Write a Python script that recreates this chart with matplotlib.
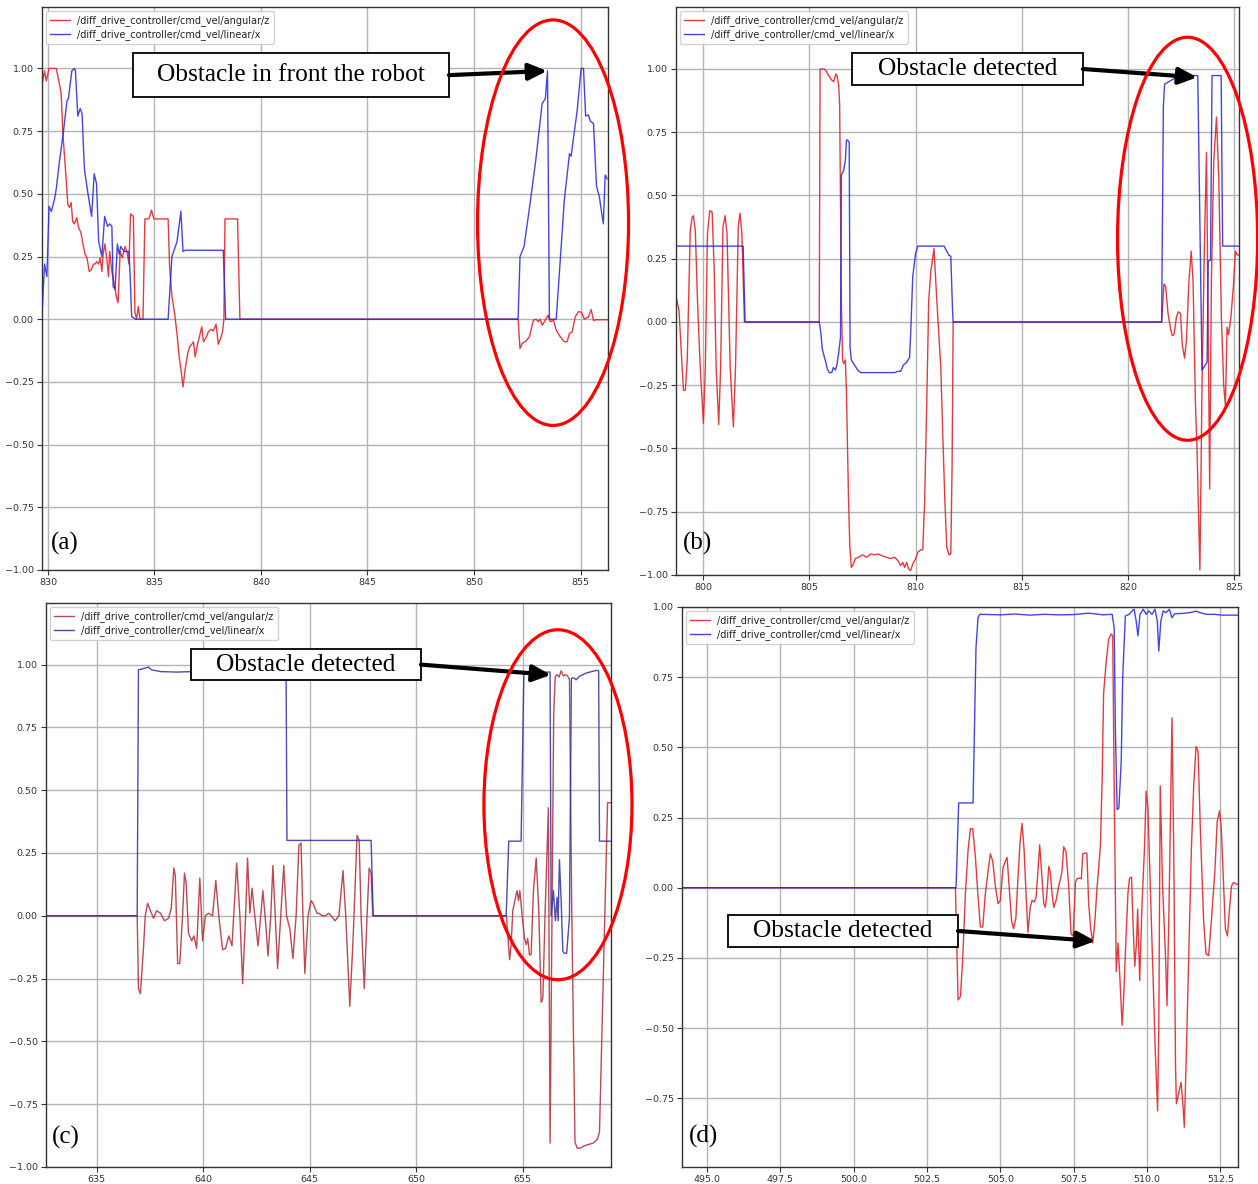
import matplotlib
matplotlib.use('Agg')
import matplotlib.pyplot as plt
from matplotlib.patches import Ellipse, Rectangle
from matplotlib.ticker import FuncFormatter
import numpy as np

# ---------------- data (time [s], value) ----------------
LBL_ANG = '/diff_drive_controller/cmd_vel/angular/z'
LBL_LIN = '/diff_drive_controller/cmd_vel/linear/x'

a_linear = [(829.74, 0.05), (829.84, 0.22), (829.95, 0.17), (830.05, 0.45), (830.16, 0.43), (830.31, 0.48),
            (830.39, 0.52), (830.54, 0.63), (830.73, 0.75), (830.89, 0.87), (830.96, 0.88), (831.12, 0.99),
            (831.24, 1.0), (831.29, 0.99), (831.40, 0.81), (831.51, 0.84), (831.60, 0.82), (831.71, 0.6),
            (831.86, 0.51), (832.05, 0.41), (832.17, 0.58), (832.28, 0.54), (832.38, 0.31), (832.53, 0.25),
            (832.66, 0.41), (832.80, 0.37), (832.90, 0.38), (833.00, 0.37), (833.06, 0.13), (833.15, 0.12),
            (833.26, 0.30), (833.34, 0.26), (833.42, 0.29), (833.57, 0.27), (833.80, 0.27), (833.85, 0.19),
            (833.93, 0.01), (834.11, 0.0), (835.64, 0.0), (835.82, 0.25), (836.06, 0.31), (836.24, 0.43),
            (836.34, 0.27), (836.44, 0.275), (838.23, 0.275), (838.34, 0.0), (852.07, 0.0), (852.16, 0.25),
            (852.35, 0.29), (852.63, 0.46), (852.90, 0.635), (853.20, 0.86), (853.35, 0.88), (853.45, 0.99),
            (853.54, 0.0), (853.86, 0.0), (854.24, 0.475), (854.43, 0.62), (854.48, 0.66), (854.56, 0.65),
            (854.65, 0.71), (854.84, 0.83), (855.03, 1.0), (855.14, 1.0), (855.24, 0.81), (855.37, 0.815),
            (855.46, 0.79), (855.61, 0.78), (855.75, 0.53), (855.88, 0.49), (856.07, 0.38), (856.16, 0.575),
            (856.25, 0.56)]
a_angular = [(829.74, 0.944), (829.84, 0.99), (829.92, 0.95), (830.05, 1.0), (830.39, 1.0), (830.51, 0.95),
             (830.62, 0.9), (830.70, 0.74), (830.82, 0.6), (830.93, 0.46), (831.01, 0.445), (831.09, 0.465),
             (831.16, 0.39), (831.24, 0.38), (831.35, 0.405), (831.44, 0.365), (831.55, 0.345), (831.63, 0.305),
             (831.74, 0.26), (831.83, 0.245), (831.94, 0.19), (832.05, 0.2), (832.14, 0.22), (832.22, 0.22),
             (832.28, 0.23), (832.38, 0.22), (832.45, 0.245), (832.53, 0.19), (832.59, 0.26), (832.67, 0.30),
             (832.76, 0.245), (832.84, 0.17), (832.90, 0.27), (833.00, 0.19), (833.11, 0.14), (833.21, 0.09),
             (833.29, 0.066), (833.39, 0.27), (833.49, 0.245), (833.62, 0.29), (833.73, 0.26), (833.80, 0.22),
             (833.88, 0.42), (834.01, 0.41), (834.08, 0.03), (834.16, 0.0), (834.24, 0.05), (834.32, 0.0),
             (834.46, 0.0), (834.55, 0.4), (834.74, 0.4), (834.86, 0.435), (834.97, 0.4), (835.64, 0.4),
             (835.71, 0.21), (835.82, 0.09), (835.95, 0.02), (836.06, -0.06), (836.16, -0.15), (836.24, -0.2),
             (836.34, -0.27), (836.44, -0.2), (836.55, -0.14), (836.65, -0.11), (836.75, -0.10), (836.83, -0.09),
             (836.91, -0.15), (837.02, -0.10), (837.11, -0.07), (837.22, -0.03), (837.30, -0.09), (837.41, -0.075),
             (837.53, -0.05), (837.66, -0.04), (837.76, -0.047), (837.89, -0.02), (838.00, -0.10), (838.11, -0.075),
             (838.20, -0.047), (838.26, 0.0), (838.31, 0.4), (838.90, 0.4), (839.01, 0.0), (852.07, 0.0),
             (852.16, -0.117), (852.26, -0.097), (852.44, -0.087), (852.60, -0.07), (852.67, -0.044),
             (852.79, -0.004), (852.92, 0.0), (853.01, -0.01), (853.11, 0.0), (853.20, -0.024), (853.30, -0.01),
             (853.39, 0.003), (853.48, 0.016), (853.58, -0.01), (853.73, -0.004), (853.86, -0.044), (854.05, -0.07),
             (854.24, -0.09), (854.37, -0.09), (854.48, -0.057), (854.61, -0.05), (854.75, 0.009), (854.90, 0.03),
             (855.05, 0.028), (855.18, 0.0), (855.37, 0.009), (855.50, 0.039), (855.61, -0.005), (855.75, -0.002),
             (856.25, -0.002)]

b_linear = [(798.73, 0.30), (801.89, 0.30), (801.98, 0.0), (805.47, 0.0), (805.53, -0.033), (805.62, -0.11),
            (805.75, -0.15), (805.85, -0.185), (805.94, -0.2), (806.06, -0.2), (806.13, -0.18), (806.23, -0.19),
            (806.30, -0.17), (806.38, -0.125), (806.47, -0.06), (806.51, 0.58), (806.57, 0.59), (806.62, 0.6),
            (806.70, 0.64), (806.75, 0.72), (806.85, 0.715), (806.88, 0.71), (806.92, -0.1), (806.98, -0.15),
            (807.09, -0.165), (807.28, -0.19), (807.42, -0.2), (809.02, -0.2), (809.17, -0.195), (809.30, -0.195),
            (809.43, -0.17), (809.58, -0.16), (809.72, -0.14), (809.77, -0.05), (809.87, 0.18), (810.00, 0.27),
            (810.11, 0.30), (811.34, 0.30), (811.47, 0.28), (811.57, 0.264), (811.66, 0.26), (811.74, 0.05),
            (811.77, 0.0), (821.58, 0.0), (821.66, 0.85), (821.72, 0.94), (821.92, 0.95), (822.19, 0.963),
            (822.55, 0.974), (823.28, 0.974), (823.48, -0.19), (823.64, -0.17), (823.72, -0.157), (823.77, 0.24),
            (823.88, 0.245), (823.95, 0.974), (824.38, 0.974), (824.45, 0.30), (825.22, 0.30)]
b_angular = [(798.74, 0.099), (798.87, 0.046), (799.02, -0.18), (799.08, -0.27), (799.17, -0.27), (799.26, -0.15),
             (799.40, 0.36), (799.49, 0.415), (799.55, 0.42), (799.64, 0.36), (799.74, 0.086), (799.87, -0.18),
             (800.02, -0.40), (800.11, -0.18), (800.21, 0.35), (800.32, 0.44), (800.43, 0.435), (800.53, 0.2),
             (800.62, -0.18), (800.74, -0.405), (800.83, -0.18), (800.94, 0.376), (801.04, 0.42), (801.13, 0.35),
             (801.28, -0.18), (801.43, -0.415), (801.53, -0.18), (801.66, 0.376), (801.74, 0.43), (801.83, 0.35),
             (801.95, 0.0), (805.47, 0.0), (805.51, 1.0), (805.58, 1.0), (805.72, 1.0), (805.81, 0.99),
             (805.94, 0.97), (806.06, 0.956), (806.15, 0.95), (806.25, 0.98), (806.30, 0.975), (806.38, 0.94),
             (806.43, 0.86), (806.51, 0.086), (806.57, -0.15), (806.62, -0.165), (806.70, -0.15), (806.75, -0.28),
             (806.85, -0.71), (806.91, -0.89), (806.98, -0.97), (807.06, -0.96), (807.17, -0.935), (807.32, -0.93),
             (807.51, -0.92), (807.70, -0.93), (807.89, -0.917), (808.08, -0.92), (808.26, -0.917), (808.45, -0.925),
             (808.64, -0.93), (808.83, -0.935), (809.02, -0.93), (809.17, -0.943), (809.30, -0.963), (809.40, -0.95),
             (809.49, -0.97), (809.58, -0.95), (809.68, -0.976), (809.77, -0.983), (809.87, -0.956), (810.00, -0.937),
             (810.11, -0.91), (810.25, -0.9), (810.34, -0.9), (810.43, -0.705), (810.53, -0.31), (810.62, 0.086),
             (810.72, 0.2), (810.87, 0.29), (811.00, 0.086), (811.19, -0.18), (811.28, -0.44), (811.38, -0.705),
             (811.47, -0.89), (811.57, -0.92), (811.66, -0.917), (811.72, -0.57), (811.77, 0.0), (821.58, 0.0),
             (821.69, 0.15), (821.77, 0.14), (821.88, 0.034), (822.00, -0.027), (822.08, -0.054), (822.16, -0.05),
             (822.28, 0.02), (822.36, 0.04), (822.47, 0.034), (822.55, -0.09), (822.66, -0.143), (822.75, -0.07),
             (822.86, 0.157), (822.97, 0.28), (823.06, 0.157), (823.17, -0.32), (823.25, -0.52), (823.38, -0.98),
             (823.48, -0.25), (823.59, 0.29), (823.69, 0.67), (823.75, 0.157), (823.84, -0.66), (823.92, 0.157),
             (824.03, 0.63), (824.16, 0.81), (824.27, 0.565), (824.39, 0.02), (824.50, -0.25), (824.58, -0.33),
             (824.66, -0.02), (824.73, -0.05), (824.84, 0.02), (824.97, 0.157), (825.05, 0.28), (825.13, 0.265),
             (825.22, 0.265)]

c_linear = [(632.62, 0.0), (636.90, 0.0), (636.96, 0.979), (637.24, 0.985), (637.43, 0.99), (637.58, 0.979),
            (638.00, 0.972), (638.75, 0.97), (639.50, 0.972), (643.89, 0.965), (643.93, 0.30), (647.88, 0.30),
            (647.98, 0.0), (654.22, 0.0), (654.34, 0.297), (654.92, 0.297), (655.05, 0.97), (656.28, 0.97),
            (656.33, 0.0), (656.44, 0.10), (656.53, -0.02), (656.61, 0.074), (656.66, -0.02), (656.72, 0.223),
            (656.80, 0.06), (656.88, -0.142), (656.95, -0.149), (657.06, -0.149), (657.19, -0.007), (657.28, 0.946),
            (657.42, 0.946), (657.50, 0.939), (657.66, 0.953), (657.97, 0.966), (658.28, 0.973), (658.47, 0.977),
            (658.56, 0.975), (658.60, 0.297), (659.14, 0.297)]
c_angular = [(632.62, 0.0), (636.90, 0.0), (636.96, -0.29), (637.05, -0.31), (637.18, -0.15), (637.28, 0.0),
             (637.39, 0.05), (637.52, 0.02), (637.67, -0.01), (637.81, 0.02), (638.00, 0.01), (638.18, -0.02),
             (638.37, -0.01), (638.50, 0.03), (638.62, 0.19), (638.69, 0.16), (638.80, -0.19), (638.90, -0.19),
             (639.03, 0.0), (639.12, 0.17), (639.20, 0.13), (639.31, -0.07), (639.46, -0.10), (639.56, -0.08),
             (639.69, -0.13), (639.84, 0.15), (639.97, -0.10), (640.10, 0.0), (640.25, 0.01), (640.44, 0.0),
             (640.59, 0.14), (640.73, 0.0), (640.91, -0.135), (641.05, -0.13), (641.20, -0.08), (641.35, -0.12),
             (641.57, 0.21), (641.72, 0.0), (641.85, -0.27), (641.99, 0.0), (642.08, 0.23), (642.19, 0.01),
             (642.29, 0.11), (642.42, 0.0), (642.57, -0.12), (642.70, 0.0), (642.80, 0.10), (642.93, -0.03),
             (643.04, -0.16), (643.17, 0.0), (643.27, 0.20), (643.38, 0.0), (643.49, -0.21), (643.64, 0.0),
             (643.78, 0.20), (643.91, 0.0), (644.06, -0.05), (644.21, -0.17), (644.36, 0.0), (644.49, 0.28),
             (644.59, 0.29), (644.68, 0.0), (644.77, -0.23), (644.92, 0.0), (645.06, 0.06), (645.15, 0.05),
             (645.34, 0.01), (645.43, 0.01), (645.58, 0.0), (645.72, 0.0), (645.90, 0.01), (646.19, -0.02),
             (646.37, 0.0), (646.56, 0.18), (646.69, 0.0), (646.88, -0.36), (647.03, -0.10), (647.22, 0.32),
             (647.32, 0.30), (647.41, 0.0), (647.56, -0.29), (647.69, 0.0), (647.79, 0.19), (647.88, 0.17),
             (647.96, 0.0), (654.23, 0.0), (654.38, -0.175), (654.45, -0.12), (654.53, 0.02), (654.66, 0.074),
             (654.73, 0.10), (654.80, 0.06), (654.86, 0.10), (654.97, 0.0), (655.08, -0.09), (655.16, -0.115),
             (655.23, -0.09), (655.31, -0.155), (655.39, -0.155), (655.50, 0.10), (655.63, 0.23), (655.75, 0.02),
             (655.86, -0.345), (655.94, -0.33), (656.05, 0.02), (656.20, 0.43), (656.28, -0.905), (656.36, -0.10),
             (656.45, 0.80), (656.52, 0.95), (656.60, 0.96), (656.70, 0.95), (656.80, 0.975), (656.90, 0.955),
             (657.00, 0.96), (657.10, 0.955), (657.19, 0.94), (657.30, 0.0), (657.45, -0.90), (657.55, -0.925),
             (657.70, -0.925), (657.90, -0.915), (658.10, -0.91), (658.30, -0.905), (658.50, -0.89), (658.60, -0.86),
             (658.98, 0.45), (659.14, 0.45)]

d_linear = [(494.15, 0.0), (503.49, 0.0), (503.58, 0.302), (504.07, 0.302), (504.17, 0.855), (504.24, 0.962),
            (504.30, 0.974), (505.00, 0.972), (505.50, 0.975), (506.00, 0.971), (506.50, 0.974), (507.00, 0.972),
            (507.50, 0.973), (508.00, 0.978), (508.20, 0.976), (508.50, 0.972), (508.81, 0.974), (508.88, 0.926),
            (508.92, 0.57), (508.98, 0.278), (509.04, 0.284), (509.12, 0.45), (509.17, 0.748), (509.26, 0.968),
            (509.39, 0.974), (509.49, 0.986), (509.56, 0.992), (509.63, 0.95), (509.69, 0.897), (509.76, 0.974),
            (509.87, 0.992), (509.97, 0.974), (510.06, 0.986), (510.17, 0.974), (510.27, 0.992), (510.35, 0.95),
            (510.40, 0.843), (510.47, 0.95), (510.55, 0.986), (510.65, 0.98), (510.76, 0.992), (510.85, 0.962),
            (510.95, 0.976), (511.19, 0.977), (511.47, 0.98), (511.67, 0.985), (511.81, 0.98), (512.01, 0.974),
            (512.29, 0.974), (512.56, 0.971), (513.10, 0.971)]
d_angular = [(494.15, 0.0), (503.47, 0.0), (503.49, -0.095), (503.56, -0.40), (503.64, -0.388), (503.72, -0.248),
             (503.81, -0.019), (503.90, 0.134), (503.98, 0.21), (504.06, 0.21), (504.15, 0.108), (504.24, -0.032),
             (504.32, -0.14), (504.40, -0.14), (504.49, -0.019), (504.58, 0.057), (504.66, 0.121), (504.74, 0.095),
             (504.83, 0.006), (504.92, -0.057), (505.00, -0.045), (505.09, 0.07), (505.17, 0.095), (505.23, 0.108),
             (505.28, 0.032), (505.38, -0.115), (505.45, -0.146), (505.53, -0.108), (505.60, 0.032), (505.67, 0.159),
             (505.74, 0.229), (505.81, 0.134), (505.88, -0.032), (505.94, -0.159), (506.02, -0.07), (506.08, -0.045),
             (506.16, -0.051), (506.22, -0.032), (506.28, 0.057), (506.34, 0.153), (506.42, 0.032), (506.48, -0.057),
             (506.53, -0.07), (506.59, -0.019), (506.65, 0.076), (506.70, 0.057), (506.76, -0.019), (506.82, -0.07),
             (506.90, -0.045), (506.99, 0.006), (507.05, 0.032), (507.10, 0.057), (507.16, 0.146), (507.24, 0.127),
             (507.33, 0.006), (507.41, -0.165), (507.48, -0.172), (507.56, 0.019), (507.61, 0.032), (507.67, 0.034),
             (507.76, 0.032), (507.81, 0.121), (507.88, 0.123), (507.95, 0.123), (508.01, -0.057), (508.08, -0.146),
             (508.15, -0.197), (508.22, -0.121), (508.30, 0.006), (508.41, 0.146), (508.47, 0.388), (508.52, 0.694),
             (508.60, 0.795), (508.69, 0.885), (508.78, 0.904), (508.83, 0.897), (508.89, 0.261), (508.95, -0.299),
             (509.01, -0.197), (509.07, -0.312), (509.15, -0.49), (509.20, -0.40), (509.28, -0.185), (509.35, -0.019),
             (509.40, 0.032), (509.47, 0.038), (509.52, -0.121), (509.58, -0.28), (509.64, -0.197), (509.68, -0.076),
             (509.75, -0.331), (509.83, -0.057), (509.91, 0.134), (509.97, 0.344), (510.03, 0.286), (510.11, 0.006),
             (510.20, -0.312), (510.28, -0.579), (510.36, -0.795), (510.40, -0.5), (510.45, 0.363), (510.53, 0.006),
             (510.63, -0.248), (510.68, -0.42), (510.74, -0.121), (510.80, 0.261), (510.85, 0.605), (510.91, 0.134),
             (510.97, -0.63), (511.00, -0.77), (511.08, -0.732), (511.16, -0.694), (511.23, -0.783), (511.27, -0.853),
             (511.33, -0.63), (511.42, -0.248), (511.51, 0.134), (511.59, 0.363), (511.67, 0.503), (511.74, 0.484),
             (511.82, 0.197), (511.93, -0.121), (512.01, -0.235), (512.10, -0.242), (512.19, -0.121), (512.31, 0.057),
             (512.39, 0.235), (512.47, 0.274), (512.53, 0.21), (512.61, 0.006), (512.67, -0.146), (512.74, -0.172),
             (512.81, -0.075), (512.88, 0.006), (512.95, 0.019), (513.03, 0.013), (513.10, 0.013)]

a_xticks = [830, 835, 840, 845, 850, 855]
b_xticks = [800, 805, 810, 815, 820, 825]
c_xticks = [635, 640, 645, 650, 655]
d_xticks = [495.0, 497.5, 500.0, 502.5, 505.0, 507.5, 510.0, 512.5]
y_ticks = [-1.0, -0.75, -0.5, -0.25, 0.0, 0.25, 0.5, 0.75, 1.0]
d_yticks = [-0.75, -0.5, -0.25, 0.0, 0.25, 0.5, 0.75, 1.0]

ANNOT_A = 'Obstacle in front the robot'
ANNOT_OTHER = 'Obstacle detected'

# ---------------- layout ----------------
W, H = 1258, 1184
fig = plt.figure(figsize=(W / 100, H / 100), dpi=100)
fig.patch.set_facecolor('white')


def rect_px(l, t, r, b):
    return [l / W, 1 - b / H, (r - l) / W, (b - t) / H]


def fmt_factory(f):
    return FuncFormatter(lambda v, pos: (f % v).replace('-', '\u2212'))


SERIF = ['Liberation Serif', 'DejaVu Serif']

panels = [
    dict(rect=rect_px(42, 7, 608, 570), xlim=(829.72, 856.29), ylim=(-1.0, 1.245), xticks=a_xticks, fmt='%d',
         yticks=y_ticks, ang=a_angular, lin=a_linear, red='#e0262c', blue='#2424dc', tag='(a)',
         tagpos=(0.016, 0.047), box=(0.161, 0.840, 0.719, 0.918), text=ANNOT_A, tip=(853.43, 0.99),
         ell=(853.71, 0.385, 7.09, 1.617)),
    dict(rect=rect_px(676, 7, 1239, 575), xlim=(798.73, 825.22), ylim=(-1.0, 1.245), xticks=b_xticks, fmt='%d',
         yticks=y_ticks, ang=b_angular, lin=b_linear, red='#e0262c', blue='#2424dc', tag='(b)',
         tagpos=(0.012, 0.055), box=(0.3126, 0.8627, 0.7229, 0.919), text=ANNOT_OTHER, tip=(823.25, 0.967),
         ell=(822.80, 0.329, 6.59, 1.593)),
    dict(rect=rect_px(46, 603, 611, 1167), xlim=(632.62, 659.14), ylim=(-1.0, 1.245), xticks=c_xticks, fmt='%d',
         yticks=y_ticks, ang=c_angular, lin=c_linear, red='#b5343f', blue='#2e2ea0', tag='(c)',
         tagpos=(0.011, 0.053), box=(0.2566, 0.8635, 0.6637, 0.918), text=ANNOT_OTHER, tip=(656.32, 0.959),
         ell=(656.65, 0.442, 6.95, 1.393)),
    dict(rect=rect_px(682, 607, 1238, 1167), xlim=(494.15, 513.10), ylim=(-0.995, 1.0), xticks=d_xticks,
         fmt='%.1f', yticks=d_yticks, ang=d_angular, lin=d_linear, red='#e0262c', blue='#2424dc', tag='(d)',
         tagpos=(0.012, 0.054), box=(0.0827, 0.3929, 0.4964, 0.45), text=ANNOT_OTHER, tip=(508.24, -0.19),
         ell=None),
]

for p in panels:
    ax = fig.add_axes(p['rect'])
    at, av = zip(*p['ang'])
    lt, lv = zip(*p['lin'])
    ax.plot(at, av, color=p['red'], lw=1.0, alpha=0.9, label=LBL_ANG, zorder=2)
    ax.plot(lt, lv, color=p['blue'], lw=1.0, alpha=0.85, label=LBL_LIN, zorder=3)
    ax.set_xlim(*p['xlim'])
    ax.set_ylim(*p['ylim'])
    ax.set_xticks(p['xticks'])
    ax.set_yticks(p['yticks'])
    ax.xaxis.set_major_formatter(fmt_factory(p['fmt']))
    ax.yaxis.set_major_formatter(fmt_factory('%.2f'))
    ax.grid(True, color='#b4b4b4', lw=1.0)
    ax.set_axisbelow(True)
    ax.tick_params(labelsize=6.8, colors='#333333', length=3.5, width=0.8, pad=2.5)
    for s in ax.spines.values():
        s.set_color('#333333')
        s.set_linewidth(1.0)
    leg = ax.legend(loc='upper left', fontsize=7, handlelength=2.0, labelspacing=0.3, borderpad=0.4,
                    framealpha=0.9, edgecolor='#cccccc', borderaxespad=0.45, handletextpad=0.8)
    for t in leg.get_texts():
        t.set_color('#222222')
    leg.set_zorder(4)

    # panel tag
    ax.text(p['tagpos'][0], p['tagpos'][1], p['tag'], transform=ax.transAxes, fontsize=18,
            family=SERIF, ha='left', va='center', zorder=6)

    # annotation box + arrow
    x0, y0, x1, y1 = p['box']
    ax.add_patch(Rectangle((x0, y0), x1 - x0, y1 - y0, transform=ax.transAxes, facecolor='white',
                           edgecolor='black', lw=1.3, zorder=6, clip_on=False))
    ax.text((x0 + x1) / 2, (y0 + y1) / 2, p['text'], transform=ax.transAxes, fontsize=18.3,
            family=SERIF, ha='center', va='center', zorder=7)
    ax.annotate('', xy=p['tip'], xycoords='data', xytext=(x1, (y0 + y1) / 2), textcoords='axes fraction',
                arrowprops=dict(arrowstyle='-|>,head_length=0.55,head_width=0.25', mutation_scale=20,
                                lw=3.0, color='black', shrinkA=0, shrinkB=0), zorder=7)

    if p['ell'] is not None:
        cx, cy, ew, eh = p['ell']
        ax.add_patch(Ellipse((cx, cy), ew, eh, transform=ax.transData, fill=False, edgecolor='#ff0000',
                             lw=2.3, clip_on=False, zorder=8))

fig.savefig('out.png', dpi=100, facecolor='white')
